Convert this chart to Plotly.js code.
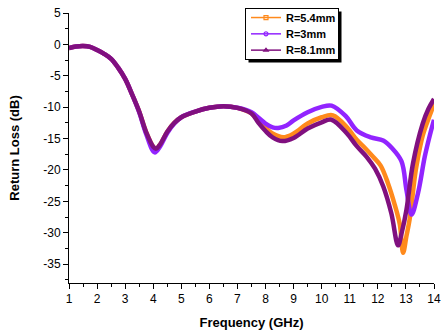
<!DOCTYPE html>
<html>
<head>
<meta charset="utf-8">
<script src="https://cdn.plot.ly/plotly-3.0.1.min.js"></script>
<style>html,body{margin:0;padding:0;background:#fff;}#chart{width:442px;height:336px;}</style>
</head>
<body>
<div id="chart"></div>
<script>
// Frequency (GHz) and return loss (dB)
var freqR54 = [1, 1.25, 1.5, 1.75, 2, 2.25, 2.5, 2.75, 3, 3.25, 3.5, 3.75, 4, 4.1, 4.25, 4.5, 4.75, 5, 5.5, 6, 6.5, 7, 7.5,
  7.75, 8, 8.25, 8.63, 9, 9.5, 10, 10.4, 10.9, 11.25, 11.5, 11.83, 12.1, 12.36, 12.6, 12.78, 12.9, 13.02, 13.13, 13.31, 13.37, 13.6, 13.85, 14];
var lossR54 = [-0.6, -0.35, -0.27, -0.4, -0.9, -1.5, -2.3, -3.7, -5.5, -8, -10.7, -14, -16.3, -16.6, -15.9, -13.9, -12.5, -11.6, -10.7, -10.1, -9.85, -10.1, -11,
  -12.2, -13.3, -14.2, -14.8, -14.2, -12.6, -11.6, -11.3, -13.2, -15.2, -16.3, -17.9, -19.3, -22.1, -25.5, -28.6, -33.2, -30.5, -27.9, -21.3, -19.5, -14.5, -11.3, -9.5];

var freqR3 = [1, 1.25, 1.5, 1.75, 2, 2.25, 2.5, 2.75, 3, 3.25, 3.5, 3.75, 4.05, 4.25, 4.5, 4.75, 5, 5.5, 6, 6.5, 7, 7.5,
  7.75, 8, 8.25, 8.45, 8.75, 9, 9.5, 10, 10.35, 10.85, 11.25, 11.75, 12.19, 12.5, 12.84, 13.02, 13.2, 13.43, 13.67, 13.85, 14];
var lossR3 = [-0.6, -0.35, -0.27, -0.4, -0.9, -1.5, -2.3, -3.7, -5.5, -8, -10.8, -14.3, -17.2, -16.2, -14.1, -12.6, -11.6, -10.7, -10.1, -9.85, -10.1, -10.8,
  -11.7, -12.6, -13.2, -13.3, -12.9, -12.1, -10.8, -9.95, -9.75, -11.4, -13.7, -14.8, -15.3, -16.5, -18.6, -23.2, -27.1, -23.7, -17.9, -14.5, -12];

var freqR81 = [1, 1.25, 1.5, 1.75, 2, 2.25, 2.5, 2.75, 3, 3.25, 3.5, 3.75, 4, 4.1, 4.25, 4.5, 4.75, 5, 5.5, 6, 6.5, 7, 7.5,
  7.75, 8, 8.25, 8.6, 9, 9.5, 10, 10.35, 10.9, 11.25, 11.6, 11.9, 12.19, 12.48, 12.72, 12.85, 13.02, 13.25, 13.6, 13.8, 14];
var lossR81 = [-0.6, -0.35, -0.27, -0.4, -0.9, -1.5, -2.3, -3.7, -5.5, -8, -10.7, -14, -16.3, -16.6, -15.9, -13.9, -12.5, -11.6, -10.7, -10.1, -9.85, -10.1, -11,
  -12.5, -13.8, -14.8, -15.4, -14.9, -13.4, -12.4, -12, -14.2, -16.2, -17.9, -19.8, -22.6, -26.9, -32, -30, -26.3, -19, -12.6, -10.3, -8.7];

var seriesNames = ["R=5.4mm", "R=3mm", "R=8.1mm"];
var xTickVals = [1, 2, 3, 4, 5, 6, 7, 8, 9, 10, 11, 12, 13, 14];
var yTickVals = [5, 0, -5, -10, -15, -20, -25, -30, -35];
var yTickText = ["5", "0", "-5", "-10", "-15", "-20", "-25", "-30", "-35"];

var FONT = "Liberation Sans, Arial, sans-serif";
var COLORS = ["#FF8A1C", "#9224FF", "#80107F"];
var SYMBOLS = ["square-open", "circle-open", "triangle-up-open"];
function trace(x, y, i) {
  return {
    x: x, y: y, name: seriesNames[i], type: "scatter", mode: "lines", showlegend: false,
    line: {color: COLORS[i], width: 4.5, shape: "spline", smoothing: 1}
  };
}
function legendTrace(i) {
  return {
    x: [null], y: [null], name: seriesNames[i], type: "scatter", mode: "lines+markers",
    line: {color: COLORS[i], width: 1.5},
    marker: {symbol: SYMBOLS[i], size: 4, color: COLORS[i], line: {color: COLORS[i], width: 1.2}}
  };
}
var data = [
  trace(freqR54, lossR54, 0), trace(freqR3, lossR3, 1), trace(freqR81, lossR81, 2),
  legendTrace(0), legendTrace(1), legendTrace(2)
];

var L = 69, R = 434, T = 11, B = 283;
function px(xp) { return (xp - L) / (R - L); }
function py(yp) { return (B - yp) / (B - T); }

var LEGX = 246, LEGY = 7, BOXW = 93, BOXH = 51, ROW = 16.3, SHADOW = 3;
var layout = {
  width: 442, height: 336,
  margin: {l: L, r: 442 - R, t: T, b: 336 - B, pad: 0},
  paper_bgcolor: "#fff", plot_bgcolor: "#fff",
  showlegend: true,
  font: {family: FONT, size: 12, color: "#000"},
  xaxis: {
    range: [1, 14], tickmode: "array", tickvals: xTickVals,
    showgrid: false, zeroline: false, showline: true, linecolor: "#000", linewidth: 1,
    ticks: "outside", ticklen: 5, tickwidth: 1, tickcolor: "#000",
    minor: {dtick: 0.5, ticks: "outside", ticklen: 3, tickcolor: "#000", showgrid: false},
    tickfont: {family: FONT, size: 12},
    title: {text: "Frequency (GHz)", font: {family: FONT, size: 13, weight: "bold"}, standoff: 12}
  },
  yaxis: {
    range: [-38, 5], tickmode: "array", tickvals: yTickVals, ticktext: yTickText,
    showgrid: false, zeroline: false, showline: true, linecolor: "#000", linewidth: 1,
    ticks: "outside", ticklen: 5, tickwidth: 1, tickcolor: "#000",
    minor: {dtick: 2.5, ticks: "outside", ticklen: 3, tickcolor: "#000", showgrid: false},
    tickfont: {family: FONT, size: 12},
    title: {text: "Return Loss (dB)", font: {family: FONT, size: 13, weight: "bold"}, standoff: 20}
  },
  legend: {
    x: px(LEGX - 1), y: py(LEGY - 1), xanchor: "left", yanchor: "top",
    bgcolor: "#fff", bordercolor: "#000", borderwidth: 1,
    font: {family: FONT, size: 11, weight: "bold"},
    itemwidth: 30, tracegroupgap: 0
  }
};

var NS = "http://www.w3.org/2000/svg";
function parseT(el) {
  var m = /translate\(\s*([-\d.]+)[ ,]+([-\d.]+)/.exec(el.getAttribute("transform") || "");
  return m ? [parseFloat(m[1]), parseFloat(m[2])] : [0, 0];
}
Plotly.newPlot("chart", data, layout, {staticPlot: true, displayModeBar: false}).then(function (gd) {
  var leg = gd.querySelector("g.legend");
  if (!leg) return;
  var bg = leg.querySelector("rect.bg");
  var items = leg.querySelectorAll("g.traces");
  // tighter row spacing like the reference legend
  if (items.length) {
    var t0 = parseT(items[0]);
    for (var i = 0; i < items.length; i++) {
      var t = parseT(items[i]);
      items[i].setAttribute("transform", "translate(" + t[0] + "," + (t0[1] - 6 + i * ROW) + ")");
    }
  }
  var clips = document.querySelectorAll("clipPath[id*='legend'] rect");
  for (var k = 0; k < clips.length; k++) {
    clips[k].setAttribute("width", BOXW);
    clips[k].setAttribute("height", BOXH);
  }
  if (bg) {
    bg.setAttribute("width", BOXW);
    bg.setAttribute("height", BOXH);
  }
  // drop shadow: an L-shaped strip drawn on top, just outside the box's right and bottom edges
  var lr = (bg || leg).getBoundingClientRect();
  var svg = leg.ownerSVGElement;
  var sr = svg.getBoundingClientRect();
  var x0 = lr.left - sr.left, y0 = lr.top - sr.top;
  var x1 = x0 + lr.width, y1 = y0 + lr.height;
  var d = "M" + x1 + "," + (y0 + SHADOW) + "H" + (x1 + SHADOW) + "V" + (y1 + SHADOW) +
          "H" + (x0 + SHADOW) + "V" + y1 + "H" + x1 + "Z";
  var sh = document.createElementNS(NS, "path");
  sh.setAttribute("d", d);
  sh.setAttribute("style", "fill:#000;stroke:none");
  svg.appendChild(sh);
  var svgs = gd.querySelectorAll("svg.main-svg");
  if (svgs.length > 1) svgs[svgs.length - 1].appendChild(sh);
});
</script>
</body>
</html>
